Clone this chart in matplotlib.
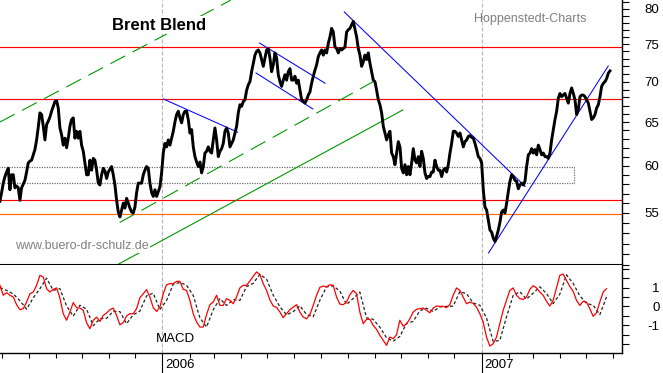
#!/usr/bin/env python3
"""Brent Blend daily chart with trend channels and a MACD pane underneath."""

import numpy as np
import pandas as pd
import matplotlib
matplotlib.use("Agg")
import matplotlib.pyplot as plt
import matplotlib.dates as mdates
from matplotlib.patches import Rectangle
from matplotlib.ticker import FixedLocator, NullFormatter, FuncFormatter

plt.rcParams["font.family"] = ["Liberation Sans", "DejaVu Sans"]

# --- data --------------------------------------------------------------------
# Brent close (USD/bbl), evenly spaced between PRICE_START and PRICE_END
PRICE_START, PRICE_END = "2005-06-29", "2007-05-28"
BRENT = [
    56.2, 57.1, 58.1, 58.8, 59.3, 59.7, 57.4, 59.0, 59.0, 57.6,
    57.8, 57.6, 56.3, 57.6, 58.0, 58.4, 59.3, 60.3, 60.5, 60.6,
    61.2, 61.8, 62.9, 64.4, 66.1, 65.9, 64.5, 62.9, 64.7, 65.1,
    65.6, 66.3, 66.9, 67.5, 67.6, 66.7, 64.3, 63.5, 62.3, 63.1,
    62.0, 63.1, 64.5, 65.3, 65.5, 63.1, 63.9, 63.1, 63.9, 62.3,
    61.6, 60.3, 59.0, 59.0, 60.6, 59.5, 60.8, 60.6, 59.5, 58.1,
    57.9, 59.0, 59.7, 59.4, 58.6, 59.3, 59.6, 59.9, 59.0, 57.9,
    56.3, 55.1, 54.6, 55.3, 56.0, 55.5, 56.5, 56.0, 55.5, 55.1,
    55.0, 55.6, 57.1, 58.1, 58.1, 58.1, 59.0, 59.5, 59.9, 59.7,
    58.1, 57.1, 56.7, 57.4, 56.7, 57.2, 57.7, 59.2, 61.4, 62.5,
    62.1, 62.9, 62.3, 63.1, 63.9, 65.0, 65.9, 66.3, 65.5, 64.9,
    65.9, 66.3, 66.3, 65.3, 63.7, 64.1, 62.1, 61.0, 60.4, 59.9,
    60.4, 59.2, 59.9, 61.4, 61.6, 62.1, 61.6, 61.4, 62.9, 64.3,
    62.9, 61.0, 61.6, 61.9, 62.5, 63.9, 64.3, 63.7, 62.1, 62.5,
    62.9, 63.7, 64.5, 66.1, 67.1, 66.9, 67.5, 67.7, 68.9, 69.6,
    70.0, 71.3, 72.4, 73.5, 74.0, 74.2, 73.8, 72.9, 72.0, 73.1,
    74.2, 74.4, 73.1, 71.3, 72.2, 73.8, 73.1, 70.9, 70.0, 69.4,
    70.2, 70.9, 70.2, 71.3, 71.7, 70.2, 70.2, 70.7, 69.8, 70.2,
    68.9, 67.7, 67.5, 67.3, 67.7, 68.3, 68.7, 69.8, 70.7, 71.5,
    72.2, 73.3, 73.8, 74.2, 73.5, 74.2, 73.8, 75.1, 76.0, 77.2,
    76.7, 74.6, 74.4, 73.8, 74.4, 74.2, 74.4, 74.6, 76.7, 77.0,
    77.2, 77.7, 78.2, 77.1, 76.0, 74.4, 73.5, 72.0, 72.6, 73.5,
    72.9, 73.8, 72.4, 71.3, 70.2, 70.0, 68.9, 67.7, 67.1, 66.1,
    64.5, 63.7, 62.9, 63.5, 63.9, 61.4, 61.0, 60.1, 61.4, 62.7,
    62.1, 59.7, 59.2, 60.1, 59.0, 59.9, 59.0, 60.3, 61.9, 60.6,
    60.3, 61.0, 59.9, 61.6, 60.8, 59.2, 58.6, 58.8, 58.8, 59.3,
    59.3, 60.6, 59.9, 59.5, 59.5, 58.8, 59.5, 59.7, 59.3, 60.1,
    61.4, 62.5, 63.9, 63.9, 63.7, 63.3, 63.7, 62.9, 62.1, 62.7,
    62.9, 63.3, 63.4, 63.2, 63.1, 62.5, 61.8, 61.0, 60.8, 60.3,
    57.4, 55.6, 55.3, 54.3, 53.3, 53.1, 52.5, 52.2, 52.7, 53.3,
    54.1, 55.1, 55.3, 55.0, 56.0, 57.2, 58.3, 59.0, 58.8, 58.4,
    58.3, 57.5, 57.9, 58.1, 57.9, 58.3, 59.9, 61.2, 61.4, 61.9,
    61.4, 61.8, 61.2, 62.3, 61.8, 61.2, 61.4, 61.0, 61.0, 60.8,
    61.4, 62.9, 64.1, 65.3, 66.3, 67.9, 68.5, 68.1, 68.3, 68.5,
    67.9, 67.3, 68.5, 69.2, 68.5, 67.7, 65.9, 66.5, 68.1, 68.3,
    68.3, 68.1, 67.7, 67.3, 66.3, 65.3, 65.5, 65.9, 66.7, 67.1,
    68.1, 69.4, 69.8, 70.0, 70.4, 71.1, 71.4,
]

# MACD line, evenly spaced between MACD_START and MACD_END
MACD_START, MACD_END = "2005-06-29", "2007-05-24"
MACD = [
    1.12, 0.59, 0.73, 0.59, 0.50, 0.09, -0.18, -0.12, 0.23, 0.67,
    0.76, 1.12, 1.65, 1.56, 0.94, 0.76, 0.90, 0.98, 0.44, -0.39,
    -0.74, -0.30, 0.20, -0.07, -0.09, -0.21, -0.87, -1.19, -0.74, -0.57,
    -0.80, -0.48, -0.35, -0.18, -0.09, -0.48, -0.98, -0.87, -0.51, -0.39,
    -0.39, -0.12, 0.46, 0.67, 0.89, 0.50, -0.07, -0.27, -0.04, 0.67,
    1.15, 1.21, 1.21, 1.33, 1.33, 0.90, 0.85, 0.32, -0.39, -0.83,
    -1.10, -1.10, -0.44, 0.09, 0.23, 0.59, 0.05, 0.05, 0.41, 0.32,
    0.14, 0.50, 0.98, 1.12, 1.12, 1.35, 1.60, 1.83, 1.70, 1.21,
    0.85, 0.35, 0.02, -0.05, -0.30, -0.60, -0.39, -0.18, -0.04, 0.09,
    -0.30, -0.57, -0.66, -0.44, 0.05, 0.59, 1.01, 1.08, 1.03, 1.15,
    1.12, 0.50, 0.12, 0.09, 0.23, 0.62, 0.85, 0.67, -0.30, -0.92,
    -0.69, -0.69, -1.01, -1.22, -1.54, -1.81, -2.07, -1.63, -1.72, -1.51,
    -0.74, -1.05, -0.94, -0.66, -0.30, -0.16, -0.12, -0.09, -0.21, -0.34,
    -0.09, 0.02, 0.00, 0.00, -0.07, 0.09, 0.59, 0.98, 0.85, 0.50,
    0.14, 0.23, 0.16, -0.04, -0.39, -0.83, -1.63, -2.11, -1.99, -1.63,
    -0.92, -0.21, 0.32, 0.85, 0.98, 0.59, 0.41, 0.37, 0.50, 0.90,
    1.10, 0.98, 0.76, 0.59, 0.27, 0.02, 0.32, 0.98, 1.65, 1.72,
    1.38, 1.06, 0.80, 0.32, 0.05, 0.27, 0.23, -0.12, -0.53, -0.34,
    0.23, 0.76, 0.94,
]
# signal line (dashed), same span, half the sampling
SIGNAL = [
    1.00, 0.85, 0.66, 0.30, -0.15, 0.45, 0.94, 1.50, 0.85, 0.94,
    0.02, -0.52, 0.06, -0.15, -1.03, -0.65, -0.64, -0.26, -0.28, -0.92,
    -0.45, -0.25, 0.56, 0.70, -0.17, 0.31, 1.18, 1.27, 1.12, 0.58,
    -0.61, -1.10, -0.18, 0.41, 0.05, 0.36, 0.32, 1.05, 1.23, 1.70,
    1.45, 0.60, -0.02, -0.45, -0.28, 0.03, -0.43, -0.55, 0.32, 1.04,
    1.09, 0.81, 0.10, 0.42, 0.76, -0.61, -0.69, -1.11, -1.67, -1.85,
    -1.60, -0.90, -0.80, -0.23, -0.10, -0.27, -0.03, 0.00, 0.01, 0.78,
    0.68, 0.18, 0.06, -0.61, -1.87, -1.81, -0.56, 0.58, 0.78, 0.39,
    0.70, 1.04, 0.68, 0.15, 0.65, 1.68, 1.22, 0.56, 0.16, 0.06,
    -0.44, 0.50,
]

# horizontal levels
RED_LEVELS = [74.6, 67.8, 56.3]
ORANGE_LEVEL = 54.85
# consolidation box: start, end, low, high
BOX = ("2005-06-01", "2007-04-17", 58.1, 59.85)

# trend lines: (date1, price1, date2, price2)
GREEN_DASHED = [
    ("2005-06-29", 65.0, "2006-03-20", 81.3),
    ("2005-11-13", 54.05, "2006-08-30", 70.0),
]
GREEN_SOLID = [("2005-11-10", 50.0, "2006-10-03", 66.46)]
BLUE_LINES = [
    ("2006-01-02", 67.81, "2006-03-28", 63.8),
    ("2006-04-22", 75.15, "2006-07-06", 69.8),
    ("2006-04-18", 71.13, "2006-06-22", 66.58),
    ("2006-07-28", 79.56, "2007-02-20", 57.74),
    ("2007-01-09", 51.1, "2007-05-26", 72.05),
]

PRICE_TICKS = [55, 60, 65, 70, 75, 80]
MACD_TICKS = [-1, 0, 1]
YEARS = ["2006-01-01", "2007-01-01"]
X_RANGE = ("2005-06-29 02:00", "2007-06-10 18:00")


def dn(s):
    return mdates.date2num(pd.Timestamp(s))


price_dates = pd.date_range(PRICE_START, PRICE_END, periods=len(BRENT))
macd_dates = pd.date_range(MACD_START, MACD_END, periods=len(MACD))
signal_dates = pd.date_range(MACD_START, MACD_END, periods=len(SIGNAL))

fig = plt.figure(figsize=(6.63, 3.73), dpi=100)
ax = fig.add_axes([0, 108 / 373, 622 / 663, 265 / 373])
axm = fig.add_axes([0, 20 / 373, 622 / 663, 88 / 373])

# --- price pane ---------------------------------------------------------------
ax.set_yscale("log")
ax.set_ylim(49.99, 81.33)
ax.set_xlim(dn(X_RANGE[0]), dn(X_RANGE[1]))

for lvl in RED_LEVELS:
    ax.axhline(lvl, color="#ff0000", lw=0.85, zorder=2)
ax.axhline(ORANGE_LEVEL, color="#ff6a00", lw=0.85, zorder=2)

x0, x1 = dn(BOX[0]), dn(BOX[1])
ax.add_patch(Rectangle((x0, BOX[2]), x1 - x0, BOX[3] - BOX[2], fill=False,
                       edgecolor="#707070", lw=0.9, ls=(0, (1, 1)), zorder=2))

for d1, p1, d2, p2 in GREEN_DASHED:
    ax.plot([dn(d1), dn(d2)], [p1, p2], color="#009900", lw=0.8,
            dashes=(15, 7.5), zorder=2)
for d1, p1, d2, p2 in GREEN_SOLID:
    ax.plot([dn(d1), dn(d2)], [p1, p2], color="#009900", lw=0.8, zorder=2)
for d1, p1, d2, p2 in BLUE_LINES:
    ax.plot([dn(d1), dn(d2)], [p1, p2], color="#0000ff", lw=0.75, zorder=2)

for yr in YEARS:
    ax.axvline(dn(yr), color="#b4b4b4", lw=0.8, dashes=(3.6, 1.8), zorder=1)

ax.plot(price_dates, BRENT, color="black", lw=2.1, zorder=4)

ax.yaxis.tick_right()
ax.yaxis.set_major_locator(FixedLocator(PRICE_TICKS))
ax.yaxis.set_minor_locator(FixedLocator(range(50, 82)))
ax.yaxis.set_major_formatter(FuncFormatter(lambda v, p: f"{v:.0f}"))
ax.yaxis.set_minor_formatter(NullFormatter())
ax.tick_params(axis="y", which="both", direction="out", length=5, width=0.8,
               pad=22, labelsize=9.5, colors="black")
ax.tick_params(axis="x", which="both", bottom=False, labelbottom=False)
for lbl in ax.get_yticklabels():
    lbl.set_horizontalalignment("right")
for side in ("left", "top"):
    ax.spines[side].set_visible(False)
ax.spines["bottom"].set_linewidth(1.5)
ax.spines["right"].set_linewidth(1.0)

ax.text(0.255, 0.905, "Brent Blend", transform=ax.transAxes, fontsize=12,
        fontweight="bold", ha="center", va="center", zorder=6,
        bbox=dict(facecolor="white", edgecolor="none", pad=1))
ax.text(0.852, 0.928, "Hoppenstedt-Charts", transform=ax.transAxes,
        fontsize=9, color="#808080", ha="center", va="center", zorder=6)
ax.text(0.024, 0.072, "www.buero-dr-schulz.de", transform=ax.transAxes,
        fontsize=9, color="#808080", ha="left", va="center", zorder=6,
        bbox=dict(facecolor="white", edgecolor="none", pad=1))

# --- MACD pane ----------------------------------------------------------------
axm.set_ylim(-2.48, 2.2)
axm.set_xlim(dn(X_RANGE[0]), dn(X_RANGE[1]))
for yr in YEARS:
    axm.axvline(dn(yr), color="#b4b4b4", lw=0.8, dashes=(3.6, 1.8), zorder=1)
axm.plot(signal_dates, SIGNAL, color="#222222", lw=0.9, dashes=(2.5, 1.8),
         zorder=3)
axm.plot(macd_dates, MACD, color="#ff0000", lw=0.9, zorder=4)

axm.yaxis.tick_right()
axm.yaxis.set_major_locator(FixedLocator(MACD_TICKS))
axm.yaxis.set_minor_locator(FixedLocator([-2.5, -2, -1.5, -0.5, 0.5, 1.5, 2]))
axm.yaxis.set_major_formatter(FuncFormatter(lambda v, p: f"{v:.0f}"))
axm.yaxis.set_minor_formatter(NullFormatter())
axm.tick_params(axis="y", which="both", direction="out", length=5, width=0.8,
                pad=22, labelsize=9.5)
for lbl in axm.get_yticklabels():
    lbl.set_horizontalalignment("right")

axm.xaxis.set_major_locator(mdates.YearLocator())
axm.xaxis.set_minor_locator(mdates.MonthLocator())
axm.xaxis.set_major_formatter(NullFormatter())
axm.tick_params(axis="x", which="major", direction="out", length=14.5, width=0.8)
axm.tick_params(axis="x", which="minor", direction="out", length=3.6, width=0.8)
for side in ("left", "top"):
    axm.spines[side].set_visible(False)
axm.spines["bottom"].set_linewidth(1.0)
axm.spines["right"].set_linewidth(1.0)

for yr in YEARS:
    axm.annotate(yr[:4], xy=(dn(yr), 0), xycoords=axm.get_xaxis_transform(),
                 xytext=(2, -9), textcoords="offset points", ha="left",
                 va="center", fontsize=9.5)

axm.text(0.25, 0.16, "MACD", transform=axm.transAxes, fontsize=9.5,
         ha="left", va="center", zorder=6)

fig.savefig("out.png", dpi=100)
